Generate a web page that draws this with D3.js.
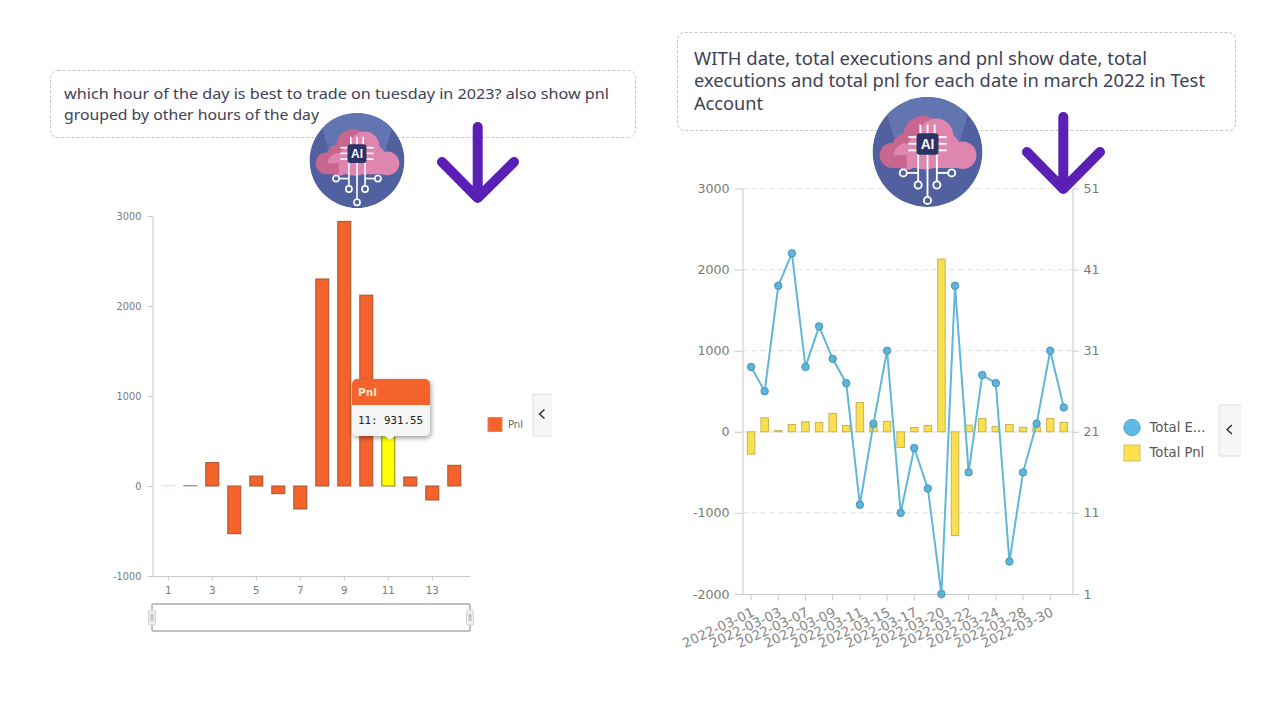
<!DOCTYPE html>
<html><head><meta charset="utf-8">
<style>html,body{margin:0;padding:0;background:#fff}svg{display:block}</style>
<script src="https://cdnjs.cloudflare.com/ajax/libs/d3/7.8.5/d3.min.js"></script>
</head><body><svg id="c" width="1284" height="703"></svg>
<script>
const hours=[1,2,3,4,5,6,7,8,9,10,11,12,13,14];
const hourPnl=[1,5,260,-530,110,-85,-255,2300,2940,2120,931.55,100,-155,230];
const hourTicks=[1,3,5,7,9,11,13];
const hourYTicks=[-1000,0,1000,2000,3000];
const dates=["01","02","03","04","07","08","09","10","11","14","15","16","17","18","20","21","22","23","24","25","28","29","30","31"].map(d=>"2022-03-"+d);
const totalExecutions=[29,26,39,43,29,34,30,27,12,22,31,11,19,14,1,39,16,28,27,5,16,22,31,24];
const totalPnl=[-275,173,15,90,123,115,226,78,362,70,128,-193,53,78,2130,-1280,82,165,66,90,55,60,165,115];
const pnlTicks=[-2000,-1000,0,1000,2000,3000];
const execTicks=[1,11,21,31,41,51];
const leftQuestion=["which hour of the day is best to trade on tuesday in 2023? also show pnl","grouped by other hours of the day"];
const rightQuestion=["WITH date, total executions and pnl show date, total","executions and total pnl for each date in march 2022 in Test","Account"];

const svg=d3.select("#c");
const AX="#c9c9c9",TXT="#7a7a7a",SANS="'DejaVu Sans',sans-serif",TITLE="'Noto Sans',sans-serif";
const plain=d=>String(d);
const defs=svg.append("defs");
const f=defs.append("filter").attr("id","sh").attr("x","-20%").attr("y","-20%").attr("width","140%").attr("height","140%");
f.append("feDropShadow").attr("dx",1).attr("dy",2).attr("stdDeviation",2.5).attr("flood-color","#000").attr("flood-opacity",.4);

function questionBox(x,y,w,h,lines,size,tx,ty,lh,tw){
  svg.append("rect").attr("x",x).attr("y",y).attr("width",w).attr("height",h).attr("rx",7)
    .attr("fill","#fff").attr("stroke","#c4c4c4").attr("stroke-dasharray","3 2");
  lines.forEach((s,i)=>{const t=svg.append("text").attr("x",tx).attr("y",ty+i*lh).attr("font-family",TITLE)
    .attr("font-size",size).attr("fill","#3e4155").text(s);
    if(tw[i])t.attr("textLength",tw[i]).attr("lengthAdjust","spacingAndGlyphs");});
}
questionBox(50.5,70.5,585,67,leftQuestion,14.8,64,99,20.5,[545,255]);
questionBox(677.5,32.5,558,98,rightQuestion,17.2,694,65,22.3,[453,511,69]);

function styleAxis(g){g.selectAll("path").attr("stroke",AX);g.selectAll("line").attr("stroke",AX);
  g.selectAll("text").attr("fill",TXT).attr("font-family",SANS);}

/* ---------- left chart ---------- */
const lx=d3.scaleBand().domain(hours).range([157.3,465.3]);
const ly=d3.scaleLinear().domain([-1000,3000]).range([576,216]);
const lg=svg.append("g");
const lya=lg.append("g").attr("transform","translate(152.5,0)").call(d3.axisLeft(ly).tickValues(hourYTicks).tickFormat(plain).tickSize(5).tickSizeOuter(0).tickPadding(6));
styleAxis(lya);lya.selectAll("text").attr("font-size",9.8);
const lxa=lg.append("g").attr("transform","translate(0,576.5)").call(d3.axisBottom(lx).tickValues(hourTicks).tickSize(4).tickSizeOuter(0).tickPadding(6));
styleAxis(lxa);lxa.selectAll("text").attr("font-size",10.3);
lxa.select("path").remove();
lg.append("line").attr("x1",152).attr("x2",470).attr("y1",576.5).attr("y2",576.5).attr("stroke",AX);
lg.selectAll("rect.b").data(hours).join("rect").attr("class","b")
  .attr("x",d=>lx(d)+lx.bandwidth()/2-6.5).attr("width",13)
  .attr("y",(d,i)=>Math.min(ly(hourPnl[i]),ly(0))).attr("height",(d,i)=>Math.abs(ly(hourPnl[i])-ly(0)))
  .attr("fill",d=>d===11?"#ffff00":"#f4632c")
  .attr("stroke",d=>d===11?"#8f7d1c":"#a8502e")
  .attr("stroke-opacity",(d,i)=>Math.min(1,Math.abs(ly(hourPnl[i])-ly(0))+.08));
/* data zoom */
lg.append("rect").attr("x",152).attr("y",604).attr("width",318).attr("height",27).attr("rx",1).attr("fill","#fff").attr("stroke","#adadad").attr("stroke-width",1.5);
[152,470].forEach(x=>{
  lg.append("rect").attr("x",x-3.5).attr("y",610).attr("width",7).attr("height",15).attr("rx",1.5).attr("fill","#eee").attr("stroke","#d4d4d4");
  lg.append("rect").attr("x",x-1.5).attr("y",614).attr("width",3).attr("height",7).attr("fill","#c4c4c4");
});
/* tooltip */
const tipV=hourPnl[hours.indexOf(11)];
const tip=svg.append("g");
tip.append("rect").attr("x",352).attr("y",379).attr("width",78).attr("height",57).attr("rx",5).attr("fill","#f5f5f5").attr("filter","url(#sh)");
tip.append("path").attr("d","M385,436h10l-5,4z").attr("fill","#f5f5f5");
tip.append("path").attr("d","M352,405V384a5,5 0 0 1 5,-5h68a5,5 0 0 1 5,5V405z").attr("fill","#f4632c");
tip.append("text").attr("x",358).attr("y",396).attr("font-family",SANS).attr("font-weight","bold").attr("font-size",10.5).attr("fill","#ffe9cf").text("Pnl");
tip.append("text").attr("x",358).attr("y",424).attr("font-family","'DejaVu Sans Mono',monospace").attr("font-size",10.8).attr("fill","#222").text("11: "+tipV);
/* legend */
svg.append("rect").attr("x",488).attr("y",417.5).attr("width",14).attr("height",14).attr("fill","#f4632c").attr("stroke","#d9885f");
svg.append("text").attr("x",508).attr("y",427.5).attr("font-family",SANS).attr("font-size",10).attr("fill","#666").text("Pnl");
function collapse(x,y,w,h){
  svg.append("rect").attr("x",x).attr("y",y).attr("width",w).attr("height",h).attr("fill","#f6f6f6");
  svg.append("path").attr("d",`M${x+w},${y}H${x}V${y+h}H${x+w}`).attr("fill","none").attr("stroke","#dcdcdc");
  const cx=x+w/2-.5,cy=y+h/2-1;
  svg.append("path").attr("d",`M${cx+2.5},${cy-4.5}L${cx-2.5},${cy}L${cx+2.5},${cy+4.5}`).attr("fill","none").attr("stroke","#222").attr("stroke-width",1.3);
}
collapse(533,394,19,42);

/* ---------- right chart ---------- */
const rx=d3.scaleBand().domain(dates).range([744.3,1070.6]);
const ry=d3.scaleLinear().domain([-2000,3000]).range([594,188.5]);
const re=d3.scaleLinear().domain([1,51]).range([594,188.5]);
const rc=d=>rx(d)+rx.bandwidth()/2;
const rg=svg.append("g");
rg.selectAll("line.g").data(pnlTicks.filter(v=>v>-2000)).join("line").attr("class","g")
  .attr("x1",742.5).attr("x2",1072.5).attr("y1",d=>ry(d)).attr("y2",d=>ry(d))
  .attr("stroke","#e3e3e3").attr("stroke-width",1.2).attr("stroke-dasharray","5 4");
const rya=rg.append("g").attr("transform","translate(742.5,0)").call(d3.axisLeft(ry).tickValues(pnlTicks).tickFormat(plain).tickSize(8).tickSizeOuter(0).tickPadding(5));
styleAxis(rya);rya.selectAll("text").attr("font-size",12.6);
const rea=rg.append("g").attr("transform","translate(1072.5,0)").call(d3.axisRight(re).tickValues(execTicks).tickFormat(plain).tickSize(6).tickSizeOuter(0).tickPadding(5));
styleAxis(rea);rea.selectAll("text").attr("font-size",12.6);
rg.selectAll("rect.p").data(dates).join("rect").attr("class","p")
  .attr("x",d=>rc(d)-3.75).attr("width",7.5)
  .attr("y",(d,i)=>Math.min(ry(totalPnl[i]),ry(0))).attr("height",(d,i)=>Math.abs(ry(totalPnl[i])-ry(0)))
  .attr("fill","#fadf4e").attr("stroke","#c9b154");
const rxa=rg.append("g").attr("transform","translate(0,594.5)").call(d3.axisBottom(rx).tickValues(dates.filter((d,i)=>i%2===0&&i<23)).tickSize(6).tickSizeOuter(0));
styleAxis(rxa);rxa.select("path").remove();
rg.append("line").attr("x1",735).attr("x2",1078).attr("y1",594.5).attr("y2",594.5).attr("stroke",AX);
rxa.selectAll("text").attr("font-size",13.3).attr("fill","#858585").attr("text-anchor","end").attr("dy",0).attr("y",0).attr("x",0)
  .attr("transform",d=>"translate(4,21) rotate(-25)");
const line=d3.line().x(d=>rc(d)).y((d,i)=>re(totalExecutions[i]));
rg.append("path").attr("d",line(dates)).attr("fill","none").attr("stroke","#60b8d8").attr("stroke-width",2);
rg.selectAll("circle.e").data(dates).join("circle").attr("class","e")
  .attr("cx",rc).attr("cy",(d,i)=>re(totalExecutions[i])).attr("r",3.7)
  .attr("fill","#5cb5dc").attr("stroke","#4a8fb3");
/* legend */
svg.append("circle").attr("cx",1132).attr("cy",427.5).attr("r",8.2).attr("fill","#5cbbe8").attr("stroke","#58a5c8");
svg.append("rect").attr("x",1124).attr("y",445).attr("width",16).attr("height",16).attr("fill","#ffe04e").attr("stroke","#d4bf62");
[["Total E...",432],["Total Pnl",457]].forEach(a=>svg.append("text").attr("x",1149.5).attr("y",a[1]).attr("font-family",SANS).attr("font-size",13.2).attr("fill","#555").text(a[0]));
collapse(1219,405,22,51);

/* ---------- decorative icons ---------- */
function icon(cx,cy,r){
  const id="clip"+Math.round(cx);
  defs.append("clipPath").attr("id",id).append("circle").attr("r",100);
  const g=svg.append("g").attr("transform",`translate(${cx},${cy}) scale(${r/100})`);
  const c=g.append("g").attr("clip-path",`url(#${id})`);
  c.append("circle").attr("r",100).attr("fill","#51619f");
  c.append("path").attr("d","M-82,-100L-58,-15L58,-15L82,-100z").attr("fill","#6275b0");
  const dark="#c86690",light="#de86af";
  [[-64,6,23],[-8,-30,36],[-38,-8,26]].forEach(a=>g.append("circle").attr("cx",a[0]).attr("cy",a[1]).attr("r",a[2]).attr("fill",dark));
  [[-38,8,24],[16,-30,31],[64,6,25],[32,-6,28],[-4,-2,34]].forEach(a=>g.append("circle").attr("cx",a[0]).attr("cy",a[1]).attr("r",a[2]).attr("fill",light));
  g.append("rect").attr("x",-64).attr("y",6).attr("width",30).attr("height",23).attr("fill",dark);
  g.append("rect").attr("x",-38).attr("y",4).attr("width",102).attr("height",25).attr("fill",light);
  const w=g.append("g").attr("stroke","#fff").attr("stroke-width",3.4).attr("fill","none");
  ["M-13,-50V-30","M0,-50V-30","M13,-50V-30","M-35,-27H-16","M-35,-15H-16","M-35,-3H-16","M35,-27H16","M35,-15H16","M35,-3H16",
   "M-17,4V53","M17,4V53","M0,4V81","M-17,38H-37","M17,38H37"].forEach(d=>w.append("path").attr("d",d));
  [[-44,38],[44,38],[-17,60],[17,60],[0,88]].forEach(a=>w.append("circle").attr("cx",a[0]).attr("cy",a[1]).attr("r",6.5));
  g.append("rect").attr("x",-20).attr("y",-34).attr("width",40).attr("height",39).attr("rx",6).attr("fill","#2b3266");
  g.append("text").attr("y",-6).attr("text-anchor","middle").attr("font-family","'Liberation Sans',sans-serif").attr("font-weight","bold").attr("font-size",25).attr("fill","#fff").text("AI");
}
icon(357,160.5,47.5);
icon(927.5,152,55);
function arrow(x,top,tip,lx,rx,cy,sw){
  svg.append("path").attr("d",`M${x},${top}V${tip}M${lx},${cy}L${x},${tip}L${rx},${cy}`)
    .attr("fill","none").attr("stroke","#5a1fb5").attr("stroke-width",sw).attr("stroke-linecap","round").attr("stroke-linejoin","round");
}
arrow(477.7,127,198,442,514,162,10);
arrow(1063.3,117,189,1027,1100,152,10);
</script></body></html>
